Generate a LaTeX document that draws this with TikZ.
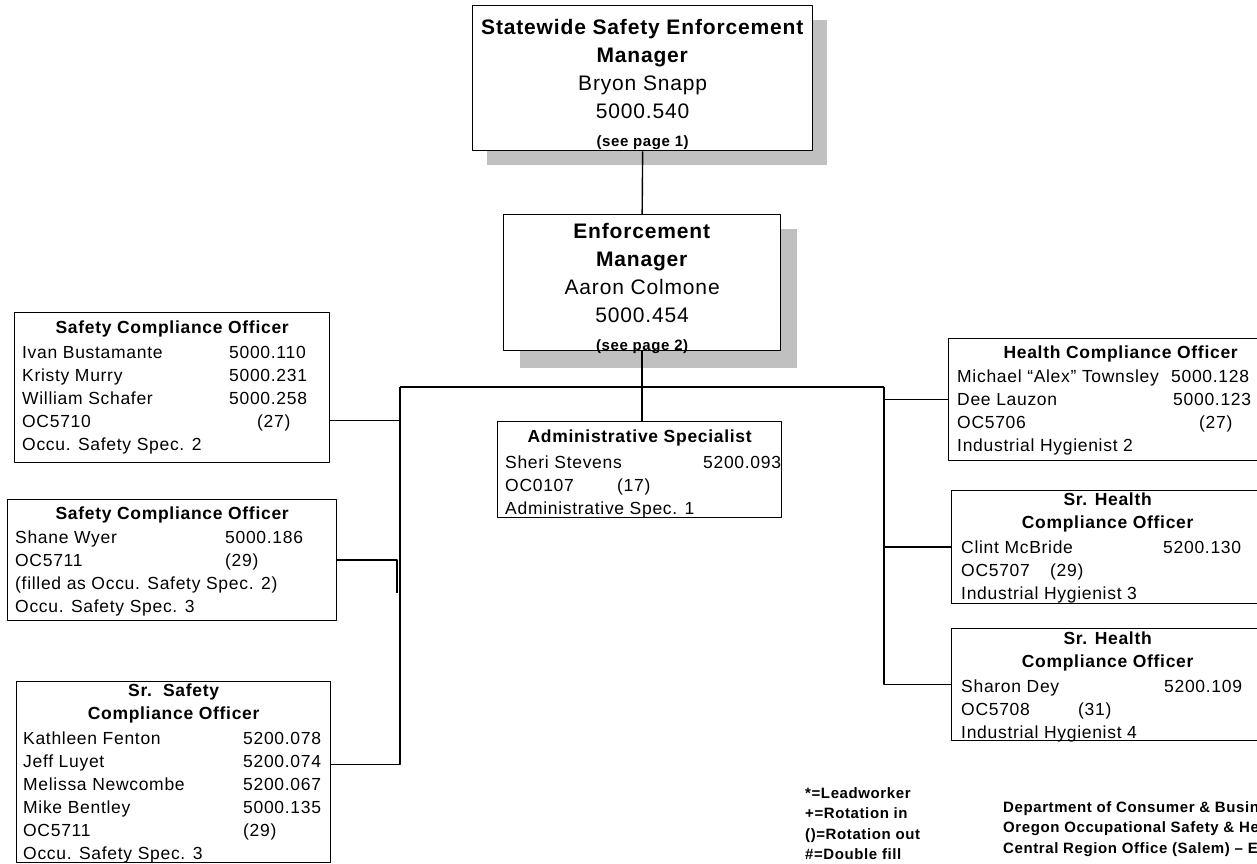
\documentclass[tikz,border=0pt]{standalone}
\usepackage{fontspec}
\setmainfont{Liberation Sans}[LetterSpace=4]
\usetikzlibrary{positioning}
\definecolor{shadowgray}{RGB}{192,192,192}
\newcommand\bigfont{\fontsize{21}{28}\selectfont}
\newcommand\bodyfont{\fontsize{17.5}{23}\selectfont}
\newcommand\notefont{\fontsize{15}{20.5}\selectfont\bfseries}
\newcommand\seefont{\fontsize{15}{20}\selectfont\bfseries}
\newcommand\widecell[1]{\multicolumn{2}{@{}l@{}}{#1}}
\newcommand\rowtab[2]{\begin{tabular}{@{}p{#1pt}@{}l@{}}#2\end{tabular}}

\begin{document}
\begin{tikzpicture}[x=1pt, y=-1pt, line join=round,
	box/.style={draw, line width=1.3pt, fill=white, anchor=north west, inner sep=0pt},
	wire/.style={line width=1.4pt},
	ttl/.style={font=\bodyfont\bfseries, align=center, inner sep=0pt},
	tab/.style={font=\bodyfont, anchor=north west, inner sep=0pt},
	head/.style={font=\bigfont, align=center, anchor=north, inner sep=0pt},
	note/.style={font=\notefont, align=left, anchor=north west, inner sep=0pt}]
	\useasboundingbox (0,0) rectangle (1257,863);
	\clip (0,0) rectangle (1257,863);
	% shadows
	\fill[shadowgray] (487,20) rectangle (827,165);
	\fill[shadowgray] (520,229) rectangle (797,368);
	% boxes
	\node[box, minimum width=340, minimum height=145] (swm) at (472,5) {};
	\node[box, minimum width=277, minimum height=136] (em) at (503,214) {};
	\node[box, minimum width=315, minimum height=150] (sco1) at (14,312) {};
	\node[box, minimum width=329, minimum height=121] (sco2) at (7,499) {};
	\node[box, minimum width=314, minimum height=181] (ssco) at (16,681) {};
	\node[box, minimum width=284, minimum height=96] (as) at (497,421) {};
	\node[box, minimum width=344, minimum height=122] (hco) at (948,338) {};
	\node[box, minimum width=312, minimum height=113] (shco1) at (951,490) {};
	\node[box, minimum width=312, minimum height=112] (shco2) at (951,628) {};
	% connectors
	\coordinate (busL) at (400,387);
	\coordinate (busR) at (884,387);
	\coordinate (stub) at (397,593);
	\draw[wire] (swm.south) -- (em.north);
	\draw[wire] (em.south) -- (em.south |- as.north);
	\draw[wire] (busL) -- (busR);
	\draw[wire] (busL) |- ([yshift=7.5]ssco.east);
	\draw[wire] ([yshift=-33]sco1.east) -- ([yshift=-33]sco1.east -| busL);
	\draw[wire] (sco2.east) -| (stub);
	\draw[wire] (busR) |- (shco2.west);
	\draw[wire] (hco.west) -- (hco.west -| busR);
	\draw[wire] (shco1.west) -- (shco1.west -| busR);
	% managers
	\node[head] (swmt) at ([yshift=-14]swm.north) {\textbf{Statewide Safety Enforcement}\\\textbf{Manager}\\Bryon Snapp\\5000.540\\{\seefont(see page 1)}};
	\node[head] (emt) at ([yshift=-9]em.north) {\textbf{Enforcement}\\\textbf{Manager}\\Aaron Colmone\\5000.454\\{\seefont(see page 2)}};
	% left side
	\node[ttl] (sco1h) at ([yshift=-17]sco1.north) {Safety Compliance Officer};
	\node[tab] (sco1r) at ([xshift=8,yshift=-30]sco1.north west) {\rowtab{207}{Ivan Bustamante & 5000.110\\ Kristy Murry & 5000.231\\ William Schafer & 5000.258\\ OC5710 & \hspace{28pt}(27)\\ \widecell{Occu. Safety Spec. 2}}};
	\node[ttl] (sco2h) at ([yshift=-16]sco2.north) {Safety Compliance Officer};
	\node[tab] (sco2r) at ([xshift=8,yshift=-28]sco2.north west) {\rowtab{210}{Shane Wyer & 5000.186\\ OC5711 & (29)\\ \widecell{(filled as Occu. Safety Spec. 2)}\\ \widecell{Occu. Safety Spec. 3}}};
	\node[ttl] (sscoh) at ([yshift=-22.5]ssco.north) {Sr.\ \ Safety\\Compliance Officer};
	\node[tab] (sscor) at ([xshift=7,yshift=-47]ssco.north west) {\rowtab{220}{Kathleen Fenton & 5200.078\\ Jeff Luyet & 5200.074\\ Melissa Newcombe & 5200.067\\ Mike Bentley & 5000.135\\ OC5711 & (29)\\ \widecell{Occu. Safety Spec. 3}}};
	% middle
	\node[ttl] (ash) at ([yshift=-17]as.north) {Administrative Specialist};
	\node[tab] (asr) at ([xshift=8,yshift=-31]as.north west) {\rowtab{198}{Sheri Stevens & 5200.093\\ \widecell{\makebox[112pt][l]{OC0107}(17)}\\ \widecell{Administrative Spec. 1}}};
	% right side
	\node[ttl] (hcoh) at ([yshift=-16]hco.north) {Health Compliance Officer};
	\node[tab] (hcor) at ([xshift=9,yshift=-28]hco.north west) {\rowtab{214}{\mbox{Michael “Alex” Townsley} & 5000.128\\ Dee Lauzon & \hspace{2pt}5000.123\\ OC5706 & \hspace{28pt}(27)\\ \widecell{Industrial Hygienist 2}}};
	\node[ttl] (shco1h) at ([yshift=-22.5]shco1.north) {Sr. Health\\Compliance Officer};
	\node[tab] (shco1r) at ([xshift=10,yshift=-47]shco1.north west) {\rowtab{202}{Clint McBride & 5200.130\\ \widecell{\makebox[89pt][l]{OC5707}(29)}\\ \widecell{Industrial Hygienist 3}}};
	\node[ttl] (shco2h) at ([yshift=-23]shco2.north) {Sr. Health\\Compliance Officer};
	\node[tab] (shco2r) at ([xshift=10,yshift=-48]shco2.north west) {\rowtab{203}{Sharon Dey & 5200.109\\ \widecell{\makebox[117pt][l]{OC5708}(31)}\\ \widecell{Industrial Hygienist 4}}};
	% key and footer
	\node[note] (key) at (805,787) {*=Leadworker\\+=Rotation in\\()=Rotation out\\\#=Double fill};
	\node[note] (dept) at (1003,801) {Department of Consumer \& Business Services\\Oregon Occupational Safety \& Health\\Central Region Office (Salem) \textendash\ Enforcement};
\end{tikzpicture}
\end{document}
